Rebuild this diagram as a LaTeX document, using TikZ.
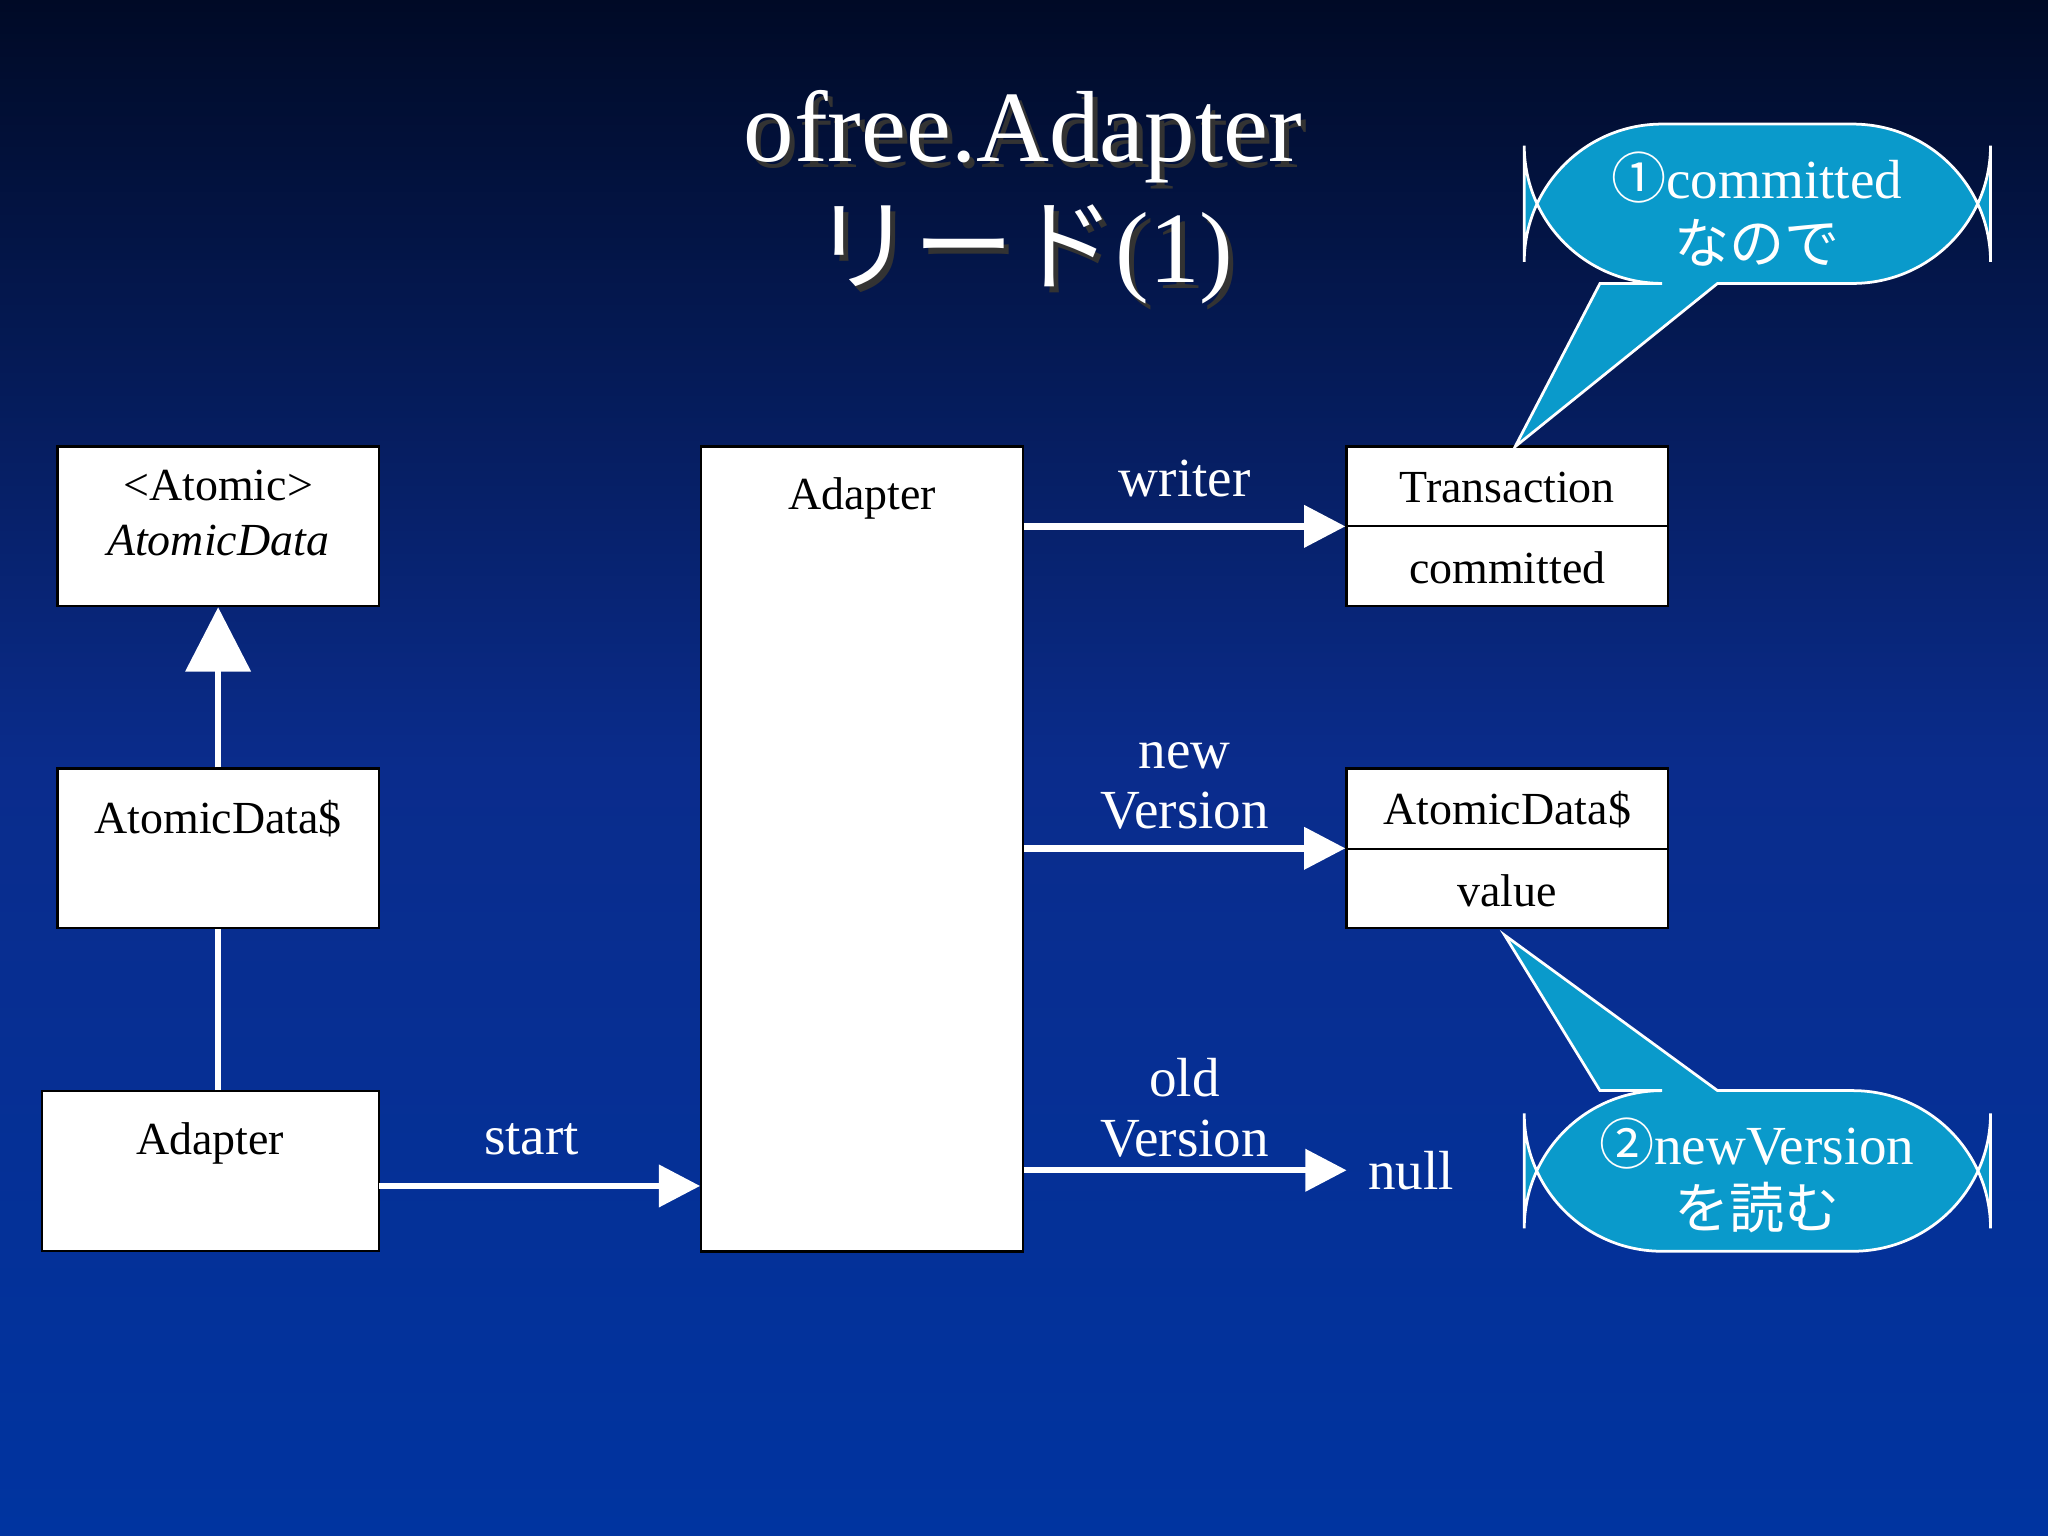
\documentclass[tikz,border=0pt]{standalone}
\usepackage{fontspec}
\setmainfont{Liberation Serif}
\newfontfamily\cjk{Noto Sans CJK JP}
\usetikzlibrary{arrows.meta,calc}
\definecolor{bgtop}{HTML}{000A26}
\definecolor{bgmid}{HTML}{0A2C8C}
\definecolor{bgbot}{HTML}{0034A0}
\definecolor{callout}{HTML}{0A9ACB}
\tikzset{
  box/.style={draw=black,fill=white,line width=0.5pt,minimum width=2.46cm,minimum height=1.22cm,inner sep=0pt,font=\fontsize{10}{12}\selectfont},
  lbl/.style={text=white,font=\fontsize{12}{13}\selectfont,align=center,inner sep=0pt},
  conn/.style={white,line width=1.4pt,-{Triangle[length=9pt,width=9pt]}},
  inh/.style={white,line width=1.4pt,-{Triangle[length=14pt,width=14pt]}},
  co/.style={fill=callout,draw=white,line width=0.6pt},
  cotext/.style={text=white,font=\fontsize{12}{14}\selectfont,align=center}
}
\begin{document}
\begin{tikzpicture}[x=0.01cm,y=-0.01cm]
\shade[top color=bgtop,bottom color=bgbot,middle color=bgmid] (0,0) rectangle (1568,1176);
\useasboundingbox (0,0) rectangle (1568,1176);
% title
\node[text=black!80,font=\fontsize{22}{24}\selectfont] at (787,109) {ofree.Adapter};
\node[text=white,font=\fontsize{22}{24}\selectfont] (t1) at (783,105) {ofree.Adapter};
\node[text=black!80,font=\fontsize{22}{24}\selectfont] at (787,199) {{\cjk リード}(1)};
\node[text=white,font=\fontsize{22}{24}\selectfont] (t2) at (783,195) {{\cjk リード}(1)};
% left boxes
\node[box] (atom) at (167,403) {};
\node[font=\fontsize{10}{12}\selectfont,align=center] (atomt) at (167,393) {<Atomic>\\\textit{AtomicData}};
\node[box] (ad1) at (167,649.5) {};
\node[font=\fontsize{10}{12}\selectfont,anchor=north] (ad1t) at (167,600) {AtomicData\$};
\node[box,minimum width=2.58cm] (ada) at (161,896.5) {};
\node[font=\fontsize{10}{12}\selectfont,anchor=north] (adat) at (161,847) {Adapter};
% big box
\node[box,minimum height=6.16cm] (big) at (660,650) {};
\node[font=\fontsize{10}{12}\selectfont,anchor=north] (bigt) at (660,353) {Adapter};
% right boxes
\node[box] (tr) at (1154,403) {};
\draw (1031,403) -- (1277,403);
\node[font=\fontsize{10}{12}\selectfont] (trt) at (1154,373) {Transaction};
\node[font=\fontsize{10}{12}\selectfont] (trc) at (1154,435) {committed};
\node[box] (ad2) at (1154,649.5) {};
\draw (1031,650) -- (1277,650);
\node[font=\fontsize{10}{12}\selectfont] (ad2t) at (1154,620) {AtomicData\$};
\node[font=\fontsize{10}{12}\selectfont] (ad2v) at (1154,682) {value};
\node[lbl,anchor=west] (null) at (1047,896) {null};
% connectors
\draw[inh] (ad1.north) -- (atom.south);
\draw[white,line width=1.4pt] (ada.north -| ad1.south) -- (ad1.south);
\draw[conn] (big.east |- tr.west) -- (tr.west);
\draw[conn] (big.east |- ad2.west) -- (ad2.west);
\draw[conn] (big.east |- null.west) -- ($(null.west)+(-16,0)$);
\coordinate (s0) at (290,908);
\draw[conn] (s0) -- (big.west |- s0);
% labels
\node[lbl] (lw) at (907,366) {writer};
\node[lbl] (ln) at (907,602) {new\\Version};
\node[lbl] (lo) at (907,848) {old\\Version};
\node[lbl] (ls) at (407,872) {start};
% callouts
\draw[co] (1225,217) -- (1160,342) -- (1315,217) [rounded corners=30] -- (1524,217) -- (1524,95) -- (1167,95) -- (1167,217) [sharp corners] -- cycle;
\node[cotext] (c1) at (1345,160) {{\cjk ①}committed\\{\cjk なので}};
\draw[co] (1225,835) -- (1152,716) -- (1315,835) [rounded corners=30] -- (1524,835) -- (1524,958) -- (1167,958) -- (1167,835) [sharp corners] -- cycle;
\node[cotext] (c2) at (1345,900) {{\cjk ②}newVersion\\{\cjk を読む}};
\end{tikzpicture}
\end{document}
